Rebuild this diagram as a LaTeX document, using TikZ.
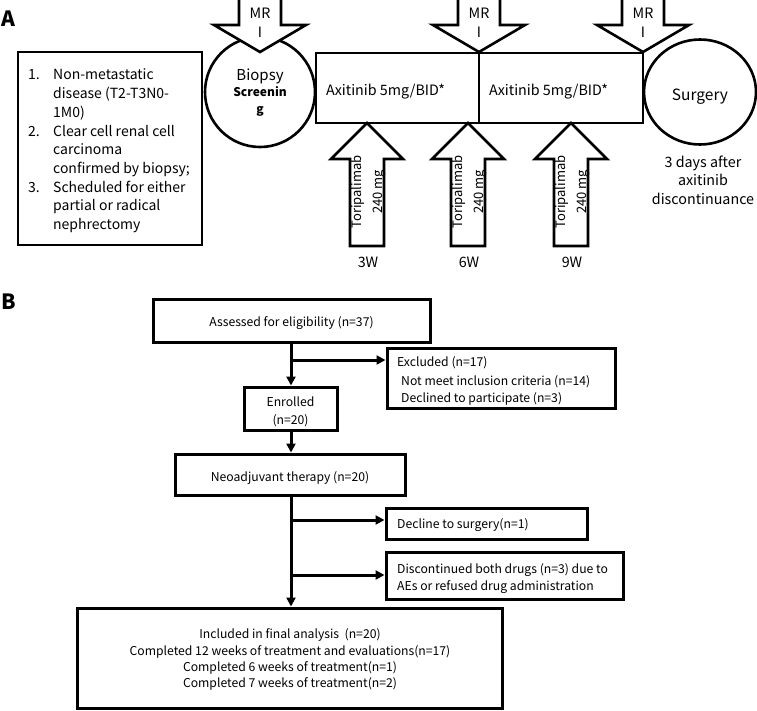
\documentclass[tikz,border=0pt]{standalone}
\usepackage{fontspec}
\setmainfont{Noto Sans CJK SC}
\usetikzlibrary{arrows.meta,shapes.geometric}
\begin{document}
\begin{tikzpicture}[x=1pt,y=-1pt,
  lwA/.style={line width=2.6pt},
  lwB/.style={line width=3pt},
  boxA/.style={draw,lwA,rectangle,inner sep=0pt},
  boxB/.style={draw,lwB,rectangle,inner sep=0pt},
  txt/.style={anchor=base,inner sep=0pt,font=\fontsize{14.3}{14.3}\selectfont},
  txtB/.style={anchor=base,inner sep=0pt,font=\fontsize{12.2}{12.2}\selectfont},
  txtBL/.style={anchor=base west,inner sep=0pt,font=\fontsize{12.2}{12.2}\selectfont},
  arr/.style={lwB,-{Triangle[length=9pt,width=9pt]}},
  blockarrow/.style={draw,lwA,fill=white,line join=miter},
  panel/.style={anchor=base west,inner sep=0pt,font=\fontsize{21}{21}\selectfont\bfseries}
]
\useasboundingbox (0,0) rectangle (757,710);

% ---------------- Panel A ----------------
\node[panel] (labA) at (1,26) {A};

\node[boxA,minimum width=184,minimum height=193] (crit) at (110,148.5) {};
\node[anchor=west,inner sep=0pt,font=\fontsize{14}{18.7}\selectfont] (crittext) at (28,151)
 {\begin{tabular}{@{}p{25pt}@{}l@{}}
 1. & Non-metastatic\\
    & disease (T2-T3N0-\\
    & 1M0)\\
 2. & Clear cell renal cell\\
    & carcinoma\\
    & confirmed by biopsy;\\
 3. & Scheduled for either\\
    & partial or radical\\
    & nephrectomy
 \end{tabular}};

\node[draw,lwA,circle,minimum size=110,inner sep=0pt] (biopsy) at (260,92) {};
\node[anchor=base,inner sep=0pt,font=\fontsize{15}{15}\selectfont] (bio1) at (260,80) {Biopsy};
\node[anchor=base,inner sep=0pt,font=\fontsize{12}{12}\selectfont\bfseries] (bio2) at (260,96.7) {Screenin};
\node[anchor=base,inner sep=0pt,font=\fontsize{12}{12}\selectfont\bfseries] (bio3) at (260,113) {g};

\node[boxA,minimum width=163,minimum height=70] (ax1) at (397.5,88) {};
\node[boxA,minimum width=164,minimum height=70] (ax2) at (561,88) {};
\node[txt,anchor=base west] (ax1t) at (326,95) {Axitinib 5mg/BID*};
\node[txt,anchor=base west] (ax2t) at (489,95) {Axitinib 5mg/BID*};

\node[draw,lwA,ellipse,minimum width=112,minimum height=105,inner sep=0pt] (surg) at (700,92) {};
\node[anchor=base,inner sep=0pt,font=\fontsize{15.5}{15.5}\selectfont] (surgt) at (700,100.5) {Surgery};
\node[txt] (d1) at (703,167) {3 days after};
\node[txt] (d2) at (703,185.5) {axitinib};
\node[txt] (d3) at (703,204) {discontinuance};

% MRI arrows
\foreach \cx/\nm in {260/m1,479/m2,643/m3}{
  \draw[blockarrow] (\cx-21,-6) -- (\cx+21,-6) -- (\cx+21,25) -- (\cx+46,25)
     -- (\cx,52) -- (\cx-46,25) -- (\cx-21,25) -- cycle;
  \node[txt] (\nm a) at (\cx,18) {MR};
  \node[txt] (\nm b) at (\cx,37) {I};
}

% Toripalimab arrows
\foreach \cx/\wk/\nm in {367/3W/t1,468/6W/t2,571/9W/t3}{
  \draw[blockarrow] (\cx,123) -- (\cx+36,159) -- (\cx+17,159) -- (\cx+17,246)
     -- (\cx-17,246) -- (\cx-17,159) -- (\cx-36,159) -- cycle;
  \node[rotate=90,inner sep=0pt,align=center,font=\fontsize{13}{21}\selectfont] (\nm) at (\cx+1,192) {Toripalimab\\240 mg};
  \node[txt] (\nm w) at (\cx+1,267) {\wk};
}

% ---------------- Panel B ----------------
\node[panel] (labB) at (1,309) {B};

\node[boxB,minimum width=277,minimum height=43] (assess) at (291.5,320.5) {};
\node[txtB] (assesst) at (291.5,326.5) {Assessed for eligibility (n=37)};

\node[boxB,minimum width=228,minimum height=60] (excl) at (501,378) {};
\node[txtBL] (excl1) at (397,366) {Excluded (n=17)};
\node[txtBL] (excl2) at (401,385.5) {Not meet inclusion criteria (n=14)};
\node[txtBL] (excl3) at (401,402.5) {Declined to participate (n=3)};

\node[boxB,minimum width=93,minimum height=43] (enrol) at (290.5,408.5) {};
\node[txtB] (enrol1) at (290.5,406.5) {Enrolled};
\node[txtB] (enrol2) at (290.5,424.5) {(n=20)};

\node[boxB,minimum width=230,minimum height=41] (neo) at (290,474.5) {};
\node[txtB] (neot) at (290,481.5) {Neoadjuvant therapy (n=20)};

\node[boxB,minimum width=201,minimum height=31] (decl) at (486.5,523.5) {};
\node[txtBL] (declt) at (397,528.5) {Decline to surgery(n=1)};

\node[boxB,minimum width=237,minimum height=47] (disc) at (504.5,575.5) {};
\node[txtBL] (disc1) at (397,573.5) {Discontinued both drugs (n=3) due to};
\node[txtBL] (disc2) at (397,590.5) {AEs or refused drug administration};

\node[boxB,minimum width=425,minimum height=100] (final) at (289.5,658) {};
\node[txtB] (f1) at (290,638.5) {Included in final analysis\ \ (n=20)};
\node[txtB] (f2) at (290,655.5) {Completed 12 weeks of treatment and evaluations(n=17)};
\node[txtB] (f3) at (290,671.5) {Completed 6 weeks of treatment(n=1)};
\node[txtB] (f4) at (290,687.5) {Completed 7 weeks of treatment(n=2)};

% connectors
\coordinate (b1) at (291,360);
\coordinate (b2) at (291,520);
\coordinate (b3) at (291,575);
\draw[arr] (assess.south -| b1) -- (enrol.north -| b1);
\draw[arr] (b1) -- (b1 -| excl.west);
\draw[arr] (enrol.south -| b1) -- (neo.north -| b1);
\draw[arr] (neo.south -| b1) -- (final.north -| b1);
\draw[arr] (b2) -- (b2 -| decl.west);
\draw[arr] (b3) -- (b3 -| disc.west);
\end{tikzpicture}
\end{document}
